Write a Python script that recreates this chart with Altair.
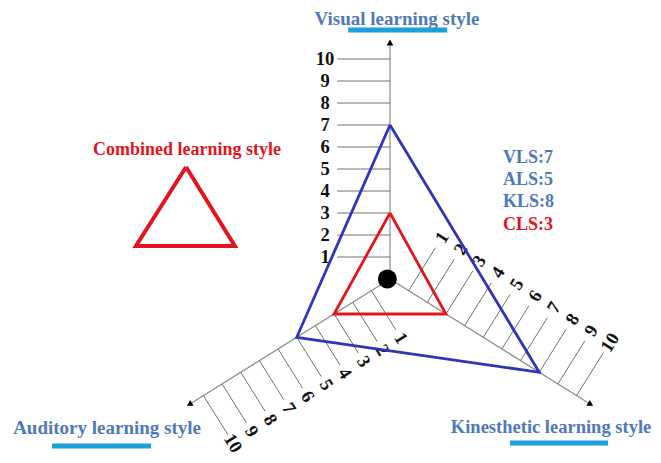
import numpy as np
import pandas as pd
import altair as alt

# ---------------- data ----------------
axis_names = ["Visual learning style", "Auditory learning style", "Kinesthetic learning style"]
codes = ["VLS", "ALS", "KLS"]
scores = [7, 5, 8]
combined_name = "Combined learning style"
combined_code = "CLS"
combined_score = 3
tick_values = list(range(1, 11))

# ---------------- layout ----------------
axis_dirs = [90, 212, 328]      # axis direction, degrees counter-clockwise from east
label_rot = [0, 58, 302]        # rotation of the tick numbers on each axis
label_off = [2.95, 2.55, 2.85]  # distance of the tick numbers from their axis (units)
tick_len = [2.4, 2.1, 2.3]      # length of the tick lines (units)
W, H = 645, 447
U = 22.0                        # pixels per score unit
CX, CY = 382, 271               # diagram centre in plot pixels
x_dom = [-CX / U, (W - CX) / U]
y_dom = [-(H - CY) / U, CY / U]
AXIS_LEN = 10.85

BLUE_TXT = "#5079b8"
RED = "#e3141c"
BLUE_TRI = "#3034b8"
UNDERLINE = "#1aa0dc"
FONT = "Liberation Serif"


def X(f, **kw):
    return alt.X(f, type="quantitative", scale=alt.Scale(domain=x_dom, nice=False, zero=False), axis=None, **kw)


def Y(f, **kw):
    return alt.Y(f, type="quantitative", scale=alt.Scale(domain=y_dom, nice=False, zero=False), axis=None, **kw)


def unit(deg):
    r = np.deg2rad(deg)
    return np.cos(r), np.sin(r)


# axis lines, arrowheads, ticks
ax_rows, arrow_rows, tick_rows = [], [], []
for name, d, rot, off, tl in zip(axis_names, axis_dirs, label_rot, label_off, tick_len):
    ux, uy = unit(d)
    px, py = unit(d + 90)
    ax_rows.append(dict(axis=name, x=0.0, y=0.0, x2=AXIS_LEN * ux, y2=AXIS_LEN * uy))
    arrow_rows.append(dict(axis=name, x=(AXIS_LEN - 0.1) * ux, y=(AXIS_LEN - 0.1) * uy, rot=(90 - d) % 360))
    for t in tick_values:
        bx, by = t * ux, t * uy
        tick_rows.append(dict(axis=name, t=t, label=str(t),
                              x=bx, y=by, x2=bx + tl * px, y2=by + tl * py,
                              lx=bx + off * px, ly=by + off * py, rot=rot))
axes_df = pd.DataFrame(ax_rows)
arrows_df = pd.DataFrame(arrow_rows)
ticks_df = pd.DataFrame(tick_rows)

# triangles (closed paths)
tri_rows = []
for grp, vals in [("individual", scores), ("combined", [combined_score] * 3)]:
    seq = list(zip(axis_dirs, vals)) + [(axis_dirs[0], vals[0])]
    for i, (d, v) in enumerate(seq):
        ux, uy = unit(d)
        tri_rows.append(dict(grp=grp, order=i, x=v * ux, y=v * uy))
tri_df = pd.DataFrame(tri_rows)

axis_lines = alt.Chart(axes_df).mark_rule(color="#8a8a8a", strokeWidth=1.2).encode(
    x=X("x"), y=Y("y"), x2="x2", y2="y2")
ticks = alt.Chart(ticks_df).mark_rule(color="#707070", strokeWidth=1).encode(
    x=X("x"), y=Y("y"), x2="x2", y2="y2")
tick_labels = alt.Chart(ticks_df).mark_text(
    font=FONT, fontWeight="bold", fontSize=18.5, color="#111111", align="center", baseline="middle"
).encode(x=X("lx"), y=Y("ly"), text="label:N", angle=alt.Angle("rot:Q", scale=None))
arrows = alt.Chart(arrows_df).mark_point(shape="triangle-up", filled=True, color="black", opacity=1, size=45).encode(
    x=X("x"), y=Y("y"), angle=alt.Angle("rot:Q", scale=None))

tri_blue = alt.Chart(tri_df[tri_df.grp == "individual"]).mark_line(color=BLUE_TRI, strokeWidth=2.8).encode(
    x=X("x"), y=Y("y"), order="order:Q")
tri_red = alt.Chart(tri_df[tri_df.grp == "combined"]).mark_line(color=RED, strokeWidth=2.8).encode(
    x=X("x"), y=Y("y"), order="order:Q")

dot = alt.Chart(pd.DataFrame({"x": [-0.12], "y": [0.0]})).mark_point(
    shape="circle", filled=True, color="black", opacity=1, size=360).encode(x=X("x"), y=Y("y"))

# axis titles with underline
title_df = pd.DataFrame({
    "text": axis_names,
    "x": [0.32, -12.86, 7.32],
    "y": [11.82, -6.77, -6.73],
    "size": [19, 19, 18.5],
})
titles = alt.Chart(title_df).mark_text(
    font=FONT, fontWeight="bold", color=BLUE_TXT, align="center", baseline="middle"
).encode(x=X("x"), y=Y("y"), text="text:N", size=alt.Size("size:Q", scale=None, legend=None))
under_df = pd.DataFrame({
    "x": [-1.9, -15.36, 5.45], "x2": [2.6, -10.86, 9.91],
    "y": [11.32, -7.59, -7.45],
})
underlines = alt.Chart(under_df).mark_rule(color=UNDERLINE, strokeWidth=5).encode(
    x=X("x"), x2="x2", y=Y("y"))

# score list
score_df = pd.DataFrame({
    "text": [f"{c}:{s}" for c, s in zip(codes, scores)] + [f"{combined_code}:{combined_score}"],
    "kind": ["ind", "ind", "ind", "comb"],
    "x": [5.14] * 4,
    "y": [5.5, 4.5, 3.5, 2.45],
})
score_text = alt.Chart(score_df).mark_text(
    font=FONT, fontWeight="bold", fontSize=18, align="left", baseline="middle"
).encode(x=X("x"), y=Y("y"), text="text:N",
         color=alt.Color("kind:N", scale=alt.Scale(domain=["ind", "comb"], range=[BLUE_TXT, RED]), legend=None))

# combined-style key
key_text = alt.Chart(pd.DataFrame({"text": [combined_name], "x": [-9.23], "y": [5.86]})).mark_text(
    font=FONT, fontWeight="bold", fontSize=18, color=RED, align="center", baseline="middle"
).encode(x=X("x"), y=Y("y"), text="text:N")
key_tri_df = pd.DataFrame({"order": [0, 1, 2, 3],
                           "x": [-9.27, -11.55, -7.05, -9.27],
                           "y": [5.09, 1.5, 1.5, 5.09]})
key_tri = alt.Chart(key_tri_df).mark_line(color=RED, strokeWidth=4, strokeJoin="miter").encode(
    x=X("x"), y=Y("y"), order="order:Q")

chart = alt.layer(
    axis_lines, ticks, tick_labels, arrows, tri_blue, tri_red, dot,
    titles, underlines, score_text, key_text, key_tri
).properties(width=W, height=H, padding=0, autosize="none").configure_view(stroke=None)

chart.save("out.html", embed_options={"renderer": "svg", "actions": False})
